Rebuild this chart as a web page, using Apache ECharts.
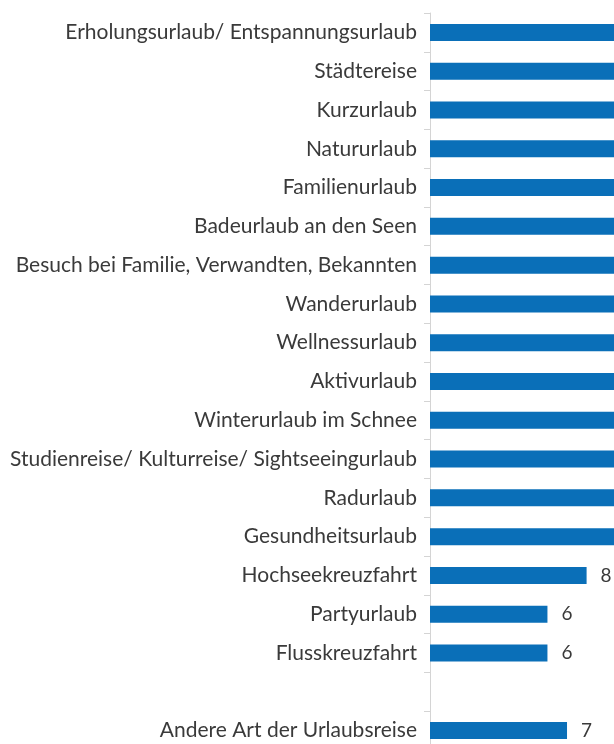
<!DOCTYPE html>
<html>
<head>
<meta charset="utf-8">
<script src="https://cdn.jsdelivr.net/npm/echarts@6/dist/echarts.min.js"></script>
<style>
  html, body { margin: 0; padding: 0; background: #fff; overflow: hidden; }
  #chart { width: 614px; height: 751px; }
</style>
</head>
<body>
<div id="chart"></div>
<script>
// Kategorien (die Lücke vor "Andere Art" ist ein leerer Slot)
var categories = [
  'Erholungsurlaub/ Entspannungsurlaub',
  'Städtereise',
  'Kurzurlaub',
  'Natururlaub',
  'Familienurlaub',
  'Badeurlaub an den Seen',
  'Besuch bei Familie, Verwandten, Bekannten',
  'Wanderurlaub',
  'Wellnessurlaub',
  'Aktivurlaub',
  'Winterurlaub im Schnee',
  'Studienreise/ Kulturreise/ Sightseeingurlaub',
  'Radurlaub',
  'Gesundheitsurlaub',
  'Hochseekreuzfahrt',
  'Partyurlaub',
  'Flusskreuzfahrt',
  '',
  'Andere Art der Urlaubsreise'
];
// Werte; die oberen Balken laufen über den Bildrand hinaus (geschätzt)
var values = [45, 34, 30, 27, 24, 21, 20, 18, 16, 15, 14, 12, 11, 10, 8, 6, 6, null, 7];

var xMax = 9.4; // sichtbarer Ausschnitt der Werteachse

var chart = echarts.init(document.getElementById('chart'));
var option = {
  animation: false,
  grid: { left: 430, right: 0, top: 13, height: 737 },
  xAxis: {
    type: 'value',
    min: 0,
    max: xMax,
    show: false
  },
  yAxis: {
    type: 'category',
    inverse: true,
    data: categories,
    axisLine: { lineStyle: { color: '#d4d4d4', width: 1 } },
    axisTick: { show: true, length: 6, lineStyle: { color: '#d4d4d4' } },
    axisLabel: {
      color: '#3a3a3a',
      fontFamily: 'Lato',
      fontSize: 21,
      margin: 13
    }
  },
  series: [{
    type: 'bar',
    data: values,
    barWidth: 17,
    clip: true,
    itemStyle: { color: '#0a6fb8' },
    label: {
      show: true,
      position: 'right',
      distance: 14,
      color: '#3a3a3a',
      fontFamily: 'Lato',
      fontSize: 19,
      formatter: function (p) {
        return p.value > xMax ? '' : p.value;
      }
    }
  }]
};
chart.setOption(option);
</script>
</body>
</html>
